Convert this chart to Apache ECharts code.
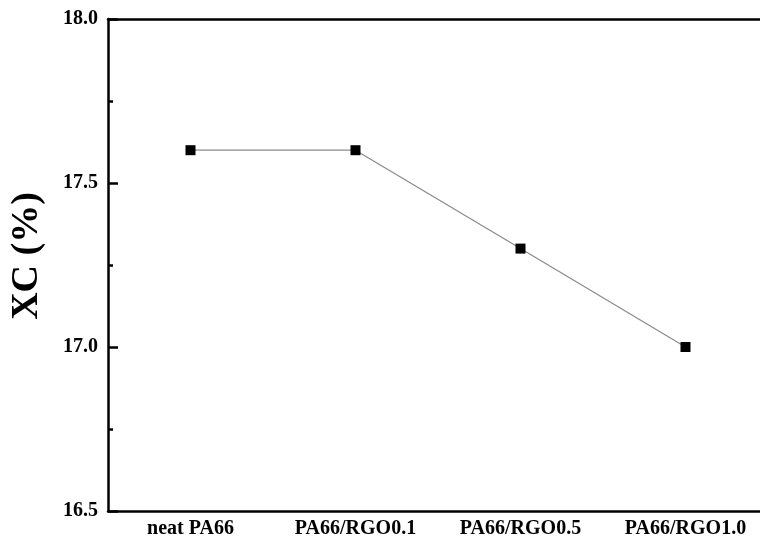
<!DOCTYPE html>
<html><head><meta charset="utf-8">
<script src="https://cdn.jsdelivr.net/npm/echarts@6/dist/echarts.min.js"></script>
<style>html,body{margin:0;padding:0;background:#fff;overflow:hidden}#c{width:768px;height:541px}</style>
</head><body><div id="c"></div>
<script>
var categories = ['neat PA66', 'PA66/RGO0.1', 'PA66/RGO0.5', 'PA66/RGO1.0'];
var xcValues = [17.6, 17.6, 17.3, 17.0];
var yTicks = [16.5, 17.0, 17.5, 18.0];

var font = '"Liberation Serif", "Times New Roman", serif';
var chart = echarts.init(document.getElementById('c'));
chart.setOption({
  backgroundColor: '#fff',
  animation: false,
  grid: { left: 108, top: 19, right: 0, bottom: 30, containLabel: false },
  xAxis: [{
    type: 'category', data: categories, boundaryGap: true,
    axisLine: { lineStyle: { color: '#000', width: 2.5 } },
    axisTick: { alignWithLabel: true, inside: true, length: 9, lineStyle: { color: '#000', width: 2.5 } },
    axisLabel: { color: '#000', fontFamily: font, fontWeight: 'bold', fontSize: 20, margin: 8 },
    splitLine: { show: false }
  }, {
    type: 'category', data: categories, position: 'top',
    axisLine: { lineStyle: { color: '#000', width: 2.5 } },
    axisTick: { show: false }, axisLabel: { show: false }
  }],
  yAxis: {
    type: 'value', min: yTicks[0], max: yTicks[yTicks.length - 1], interval: 0.5,
    name: 'XC (%)', nameLocation: 'middle', nameGap: 62,
    nameTextStyle: { color: '#000', fontFamily: font, fontWeight: 'bold', fontSize: 38, padding: [0, 0, 0, 18] },
    axisLine: { show: true, lineStyle: { color: '#000', width: 2.5 } },
    axisTick: { show: true, inside: true, length: 10, lineStyle: { color: '#000', width: 2.5 } },
    minorTick: { show: true, splitNumber: 2, length: 5, lineStyle: { color: '#000', width: 2.5 } },
    axisLabel: { color: '#000', fontFamily: font, fontWeight: 'bold', fontSize: 20, margin: 10,
      formatter: function (v) { return v.toFixed(1); } },
    splitLine: { show: false }
  },
  series: [{
    type: 'line', data: xcValues,
    symbol: 'rect', symbolSize: 10,
    itemStyle: { color: '#000' },
    lineStyle: { color: '#8a8a8a', width: 1.2 }
  }]
});
</script></body></html>
